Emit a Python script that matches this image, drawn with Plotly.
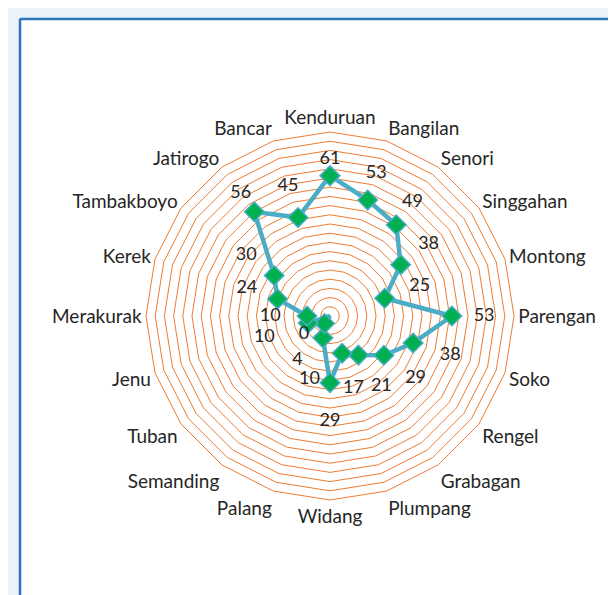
import plotly.graph_objects as go

# ---- data ----
categories = ["Kenduruan", "Bangilan", "Senori", "Singgahan", "Montong", "Parengan",
              "Soko", "Rengel", "Grabagan", "Plumpang", "Widang", "Palang",
              "Semanding", "Tuban", "Jenu", "Merakurak", "Kerek", "Tambakboyo",
              "Jatirogo", "Bancar"]
values = [61, 53, 49, 38, 25, 53, 38, 29, 21, 17, 29, 10, 4, 0, 10, 10, 24, 30, 56, 45]

# ---- style / layout constants ----
W, H = 616, 595
CX, CY, R = 322, 308, 184          # polar centre and radius in pixels
RMAX, RSTEP = 80, 4
# radial distance (in axis units) between each point and its data label
LABEL_OFFSETS = [7, 12, 12, 15, 16, 14, 17, 17, 17, 16,
                 17, 19, 20, 14, 20, 16, 14, 15, 10, 14]
FONT = "Lato"
TEXT_COLOR = "#262626"
GRID_COLOR = "#ED7D31"
LINE_COLOR = "#4BACC6"
MARKER_COLOR = "#00B050"

theta_closed = categories + categories[:1]
r_closed = values + values[:1]

fig = go.Figure()

fig.add_trace(go.Scatterpolar(
    r=r_closed, theta=theta_closed, mode="lines+markers",
    line=dict(color=LINE_COLOR, width=4.5),
    marker=dict(symbol="diamond", size=15, color=MARKER_COLOR,
                line=dict(color=LINE_COLOR, width=1.5)),
    hoverinfo="skip", showlegend=False,
))

fig.add_trace(go.Scatterpolar(
    r=[v + o for v, o in zip(values, LABEL_OFFSETS)], theta=categories,
    mode="text",
    text=[str(v) for v in values],
    textfont=dict(family=FONT, size=18, color=TEXT_COLOR),
    hoverinfo="skip", showlegend=False,
))

fig.update_layout(
    width=W, height=H,
    margin=dict(l=0, r=0, t=0, b=0),
    paper_bgcolor="#EAF2FA",
    showlegend=False,
    polar=dict(
        domain=dict(x=[(CX - R) / W, (CX + R) / W],
                    y=[1 - (CY + R) / H, 1 - (CY - R) / H]),
        bgcolor="white",
        gridshape="linear",
        radialaxis=dict(range=[0, RMAX], dtick=RSTEP, showticklabels=False,
                        ticks="", showline=False, gridcolor=GRID_COLOR,
                        gridwidth=1),
        angularaxis=dict(direction="clockwise", rotation=90, showgrid=False,
                         showline=True, linecolor=GRID_COLOR, linewidth=1,
                         ticks="",
                         tickfont=dict(family=FONT, size=19, color=TEXT_COLOR)),
    ),
    shapes=[
        dict(type="rect", xref="paper", yref="paper", layer="below",
             x0=12 / W, x1=612 / W, y0=-0.02, y1=1 - 11 / H,
             fillcolor="white", line=dict(color="#A6A6A6", width=1.5)),
        dict(type="line", xref="paper", yref="paper", layer="below",
             x0=12 / W, x1=612 / W, y0=1 - 11 / H, y1=1 - 11 / H,
             line=dict(color="#2E75B6", width=2.5)),
        dict(type="line", xref="paper", yref="paper", layer="below",
             x0=12 / W, x1=12 / W, y0=-0.02, y1=1 - 11 / H,
             line=dict(color="#2E75B6", width=2.5)),
    ],
)

fig.write_html("out.html")
